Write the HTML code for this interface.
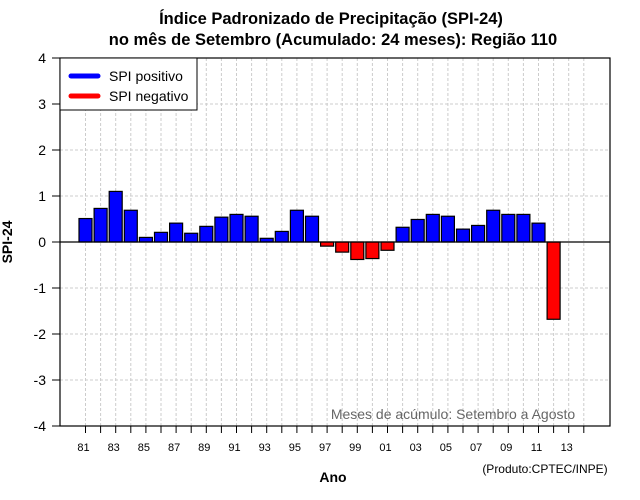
<!DOCTYPE html>
<html><head><meta charset="utf-8"><style>
body{margin:0;background:#fff}
svg{display:block;font-family:"Liberation Sans",sans-serif}
</style></head><body>
<svg id="chart" width="640" height="500" viewBox="0 0 640 500">
<text x="331" y="24" text-anchor="middle" font-size="16.5" font-weight="bold">Índice Padronizado de Precipitação (SPI-24)</text>
<text x="333" y="45" text-anchor="middle" font-size="16.5" font-weight="bold">no mês de Setembro (Acumulado: 24 meses): Região 110</text>
<g id="grid"></g>
<g id="bars"></g>
<g id="axes"></g>
<text x="453" y="419" text-anchor="middle" font-size="14" fill="#666">Meses de acúmulo: Setembro a Agosto</text>
<text x="12" y="242" text-anchor="middle" font-size="14" font-weight="bold" transform="rotate(-90 12 242)">SPI-24</text>
<text x="333" y="482" text-anchor="middle" font-size="14" font-weight="bold">Ano</text>
<text x="545" y="473" text-anchor="middle" font-size="12">(Produto:CPTEC/INPE)</text>
<g>
<rect x="60" y="58" width="137" height="52" fill="#fff" stroke="#000" stroke-width="1"/>
<line x1="71" y1="76" x2="98" y2="76" stroke="#0000ff" stroke-width="5" stroke-linecap="round"/>
<text x="109" y="81" font-size="14">SPI positivo</text>
<line x1="71" y1="96" x2="98" y2="96" stroke="#ff0000" stroke-width="5" stroke-linecap="round"/>
<text x="109" y="101" font-size="14">SPI negativo</text>
</g>
</svg>
<script>
const years = [1981,1982,1983,1984,1985,1986,1987,1988,1989,1990,1991,1992,1993,1994,1995,1996,1997,1998,1999,2000,2001,2002,2003,2004,2005,2006,2007,2008,2009,2010,2011,2012];
const spiValues = [0.51,0.73,1.10,0.69,0.10,0.21,0.41,0.19,0.34,0.54,0.60,0.56,0.08,0.23,0.69,0.56,-0.09,-0.22,-0.38,-0.36,-0.18,0.32,0.49,0.60,0.56,0.28,0.36,0.69,0.60,0.60,0.41,-1.68];
const yTicks = [-4,-3,-2,-1,0,1,2,3,4];
const xLabelYears = [1981,1983,1985,1987,1989,1991,1993,1995,1997,1999,2001,2003,2005,2007,2009,2011,2013];
const gridYears = [1981,1982,1983,1984,1985,1986,1987,1988,1989,1990,1991,1992,1993,1994,1995,1996,1997,1998,1999,2000,2001,2002,2003,2004,2005,2006,2007,2008,2009,2010,2011,2012,2013,2014];

const L=60,R=610,T=58,B=426;
const xS = y => 85.5 + (y-1981)*15.1;
const yS = v => 242 - v*46;
const NS="http://www.w3.org/2000/svg";
function mk(tag, attrs, parent){const e=document.createElementNS(NS,tag);for(const k in attrs)e.setAttribute(k,attrs[k]);parent.appendChild(e);return e;}
const grid=document.getElementById('grid'), bars=document.getElementById('bars'), axes=document.getElementById('axes');

gridYears.forEach(y=>{
  const l=mk('line',{x1:xS(y),x2:xS(y),y1:T,y2:B,stroke:'#ccc','stroke-dasharray':'3,2'},grid);
  
  
});
yTicks.forEach(v=>{
  const l=mk('line',{x1:L,x2:R,y1:yS(v),y2:yS(v),stroke:'#ccc','stroke-dasharray':'3,2'},grid);
  
  
});
years.forEach((y,i)=>{
  const v=spiValues[i];
  const r=mk('rect',{x:xS(y)-6.5,y:Math.min(yS(0),yS(v)),width:13,height:Math.abs(yS(v)-yS(0)),fill:v>=0?'#0000ff':'#ff0000',stroke:'#000','stroke-width':1.2},bars);
  
  
});
const zl=mk('line',{x1:L,x2:R,y1:yS(0),y2:yS(0),stroke:'#000','stroke-width':1.2},axes);


const fr=mk('rect',{x:L,y:T,width:R-L,height:B-T,fill:'none',stroke:'#000','stroke-width':1.2},axes);


yTicks.forEach(v=>{
  const t=mk('line',{x1:L-8,x2:L,y1:yS(v),y2:yS(v),stroke:'#000'},axes);
  
  
  const tx=mk('text',{x:L-14,y:yS(v)+5,'text-anchor':'end','font-size':14},axes);
  tx.textContent=v;
  
  
});
gridYears.forEach(y=>{
  const t=mk('line',{x1:xS(y),x2:xS(y),y1:B,y2:B+7,stroke:'#000'},axes);
  
  
});
xLabelYears.forEach(y=>{
  const tx=mk('text',{x:xS(y)-2,y:451,'text-anchor':'middle','font-size':11},axes);
  tx.textContent=String(y%100).padStart(2,'0');
  
  
});
</script>
</body></html>
